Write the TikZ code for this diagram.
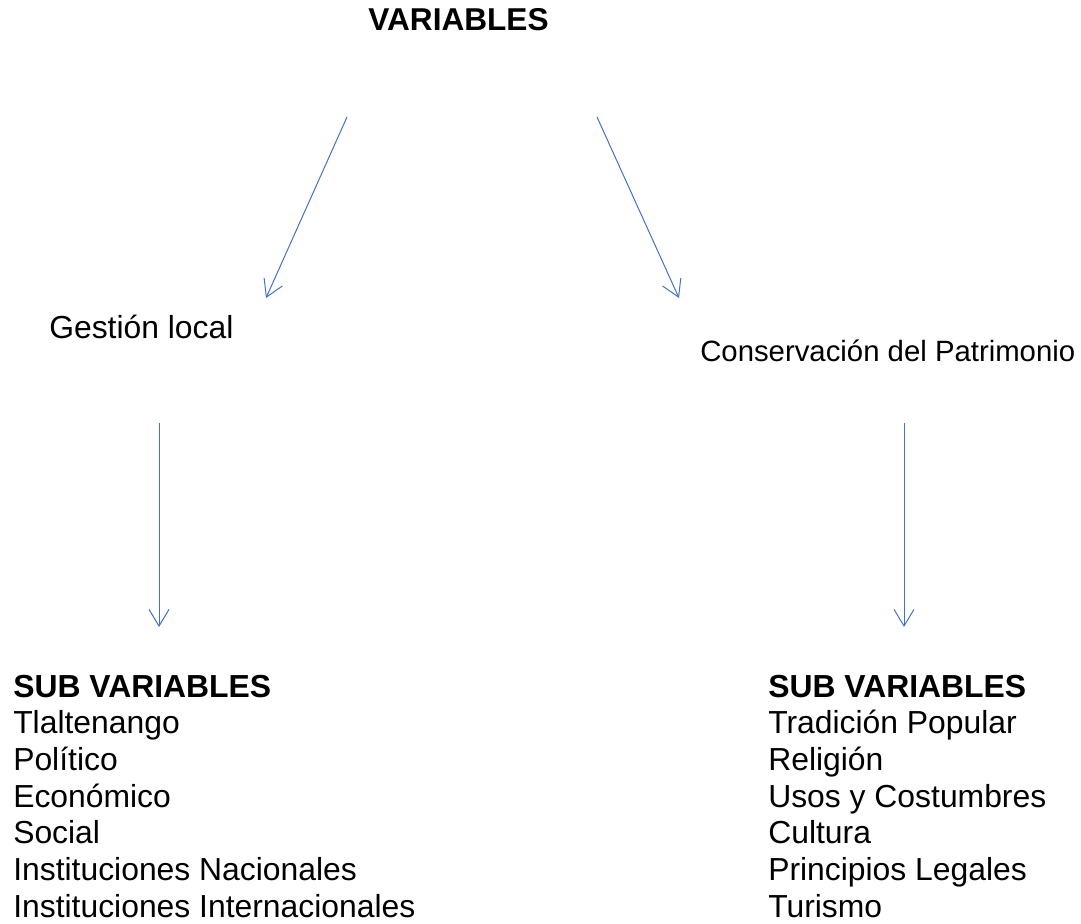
\documentclass[tikz,border=0pt]{standalone}
\usepackage{fontspec}
\setmainfont{Liberation Sans}
\usetikzlibrary{arrows.meta}
\definecolor{arrowblue}{RGB}{68,114,196}
\tikzset{
  flow/.style={draw=arrowblue, line width=0.75pt, -{Straight Barb[length=12.5pt, width=15pt, line width=0.75pt]}},
  head/.style={inner sep=0pt, anchor=base, font=\fontsize{23.7}{28}\selectfont\bfseries},
  branch/.style={inner sep=0pt, anchor=base west, font=\fontsize{23.9}{28}\selectfont},
  item/.style={inner sep=0pt, anchor=base west, font=\fontsize{23.9}{28}\selectfont}
}
\begin{document}
\begin{tikzpicture}[x=0.75pt, y=-0.75pt]
  \useasboundingbox[fill=white] (0,0) rectangle (1081,924);
  % Titulo
  \node[head] (vars) at (458.5,31) {VARIABLES};
  % Variables
  \node[branch] (gestion) at (49,338) {Gestión local};
  \node[branch, font=\fontsize{22}{26}\selectfont] (conserv) at (700,361) {Conservación del Patrimonio};
  % Puntos de las flechas
  \coordinate (a1) at (347,117);
  \coordinate (a2) at (266,298);
  \coordinate (b1) at (597,117);
  \coordinate (b2) at (679,298);
  \coordinate (c1) at (159,423);
  \coordinate (c2) at (159,627);
  \coordinate (d1) at (904,423);
  \coordinate (d2) at (904,627);
  \draw[flow] (a1) -- (a2);
  \draw[flow] (b1) -- (b2);
  \draw[flow] (c1) -- (c2);
  \draw[flow] (d1) -- (d2);
  % Sub variables
  \node[item, font=\fontsize{23.9}{28}\selectfont\bfseries] (lsub) at (13,697) {SUB VARIABLES};
  \node[item, font=\fontsize{23.9}{28}\selectfont\bfseries] (rsub) at (768,697) {SUB VARIABLES};
  \foreach \txt [count=\i] in {Tlaltenango, Político, Económico, Social,
      Instituciones Nacionales, Instituciones Internacionales}
    \node[item] (l\i) at (13,697+36.7*\i) {\txt};
  \foreach \txt [count=\i] in {Tradición Popular, Religión, Usos y Costumbres,
      Cultura, Principios Legales, Turismo}
    \node[item] (r\i) at (768,697+36.7*\i) {\txt};
\end{tikzpicture}
\end{document}
